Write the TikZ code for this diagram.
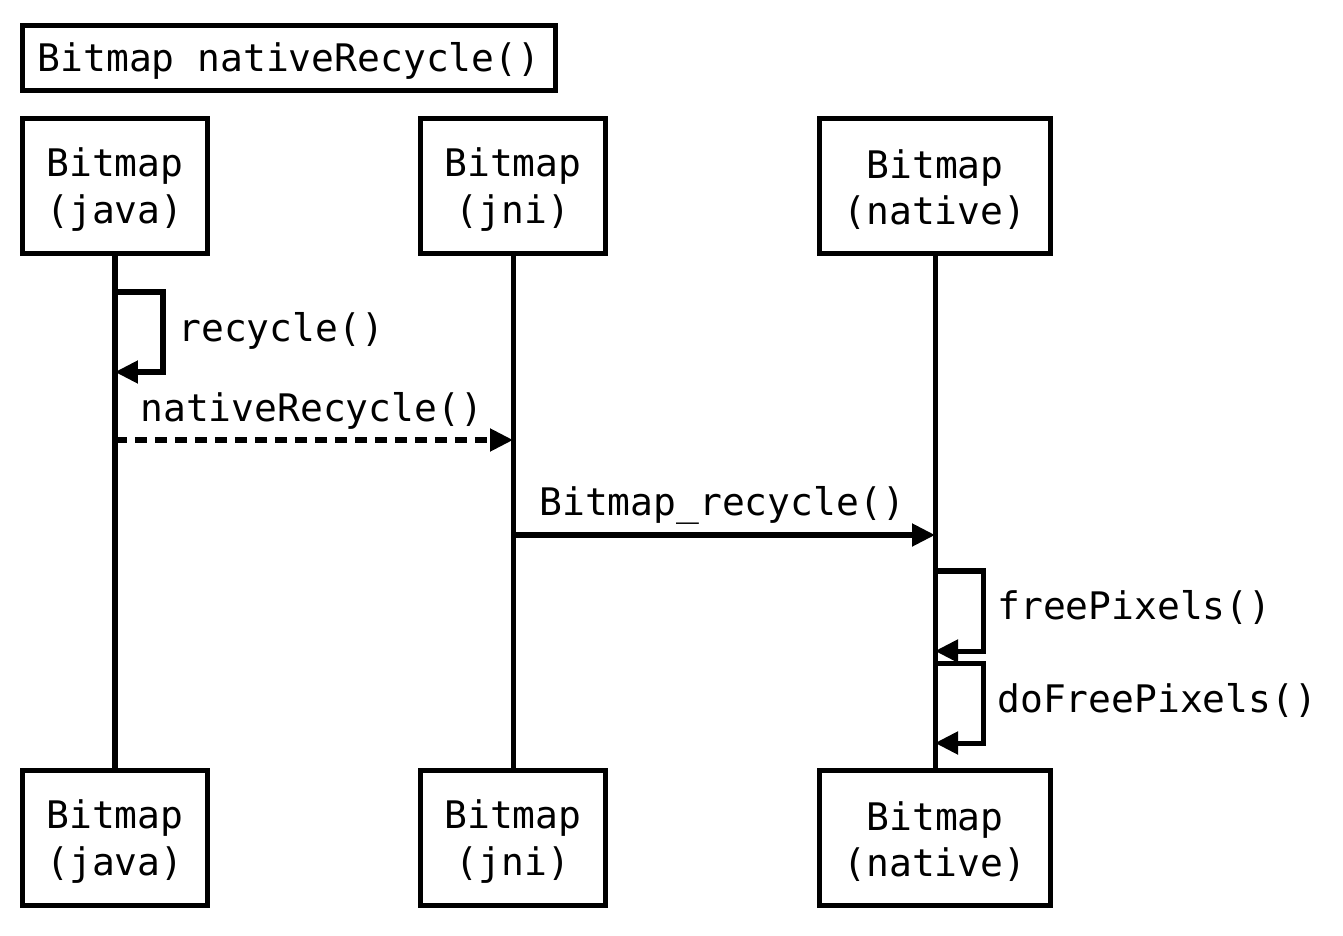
\documentclass[tikz,border=0pt]{standalone}
\usepackage{fontspec}
\setmainfont{DejaVu Sans Mono}
\usetikzlibrary{arrows.meta, positioning}

% participant text, pushed down a little inside its box
\newcommand{\bmp}[1]{\rule{0pt}{20.4pt}Bitmap\\(#1)}

\begin{document}
\begin{tikzpicture}[
    x=0.02cm, y=-0.02cm,
    every node/.style={font=\fontsize{21.6}{26.5}\selectfont},
    % Styles
    frame/.style={draw, line width=2.85pt, minimum width=10.66cm, minimum height=1.3cm,
      execute at begin node={\rule{0pt}{20.4pt}}},
    actor/.style={draw, line width=2.85pt, minimum width=#1, minimum height=2.72cm, align=center},
    lifeline/.style={line width=2.85pt},
    msg/.style={line width=2.85pt, -{Triangle[length=0.46cm, width=0.44cm]}},
    reply/.style={msg, dash pattern=on 0.24cm off 0.16cm},
    lbl/.style={anchor=base west, inner sep=0pt},
  ]
  \useasboundingbox (0,0) rectangle (1343,936);

  % 1) Title
  \node[frame] (title) at (289,58) {Bitmap nativeRecycle()};

  % 2) Participants, top and bottom
  \node[actor=3.7cm]  (java-top)   at (115,186) {\bmp{java}};
  \node[actor=3.7cm]  (jni-top)    at (513,186) {\bmp{jni}};
  \node[actor=4.62cm] (native-top) at (935,186) {\bmp{native}};

  \node[actor=3.7cm]  (java-bot)   at (115,838) {\bmp{java}};
  \node[actor=3.7cm]  (jni-bot)    at (513,838) {\bmp{jni}};
  \node[actor=4.62cm] (native-bot) at (935,838) {\bmp{native}};

  % 3) Lifelines
  \foreach \p in {java, jni, native}
    \draw[lifeline] (\p-top) -- (\p-bot);

  % 4) Messages
  \coordinate (rc1) at (115,292);
  \coordinate (rc2) at (115,372);
  \draw[msg] (rc1) -- ++(48,0) |- (rc2);
  \node[lbl] (rcLbl) at (178,341) {recycle()};

  \coordinate (nr1) at (115,440);
  \coordinate (nr2) at (513,440);
  \draw[reply] (nr1) -- (nr2);
  \node[lbl] (nrLbl) at (140,421) {nativeRecycle()};

  \coordinate (br1) at (513,535);
  \coordinate (br2) at (935,535);
  \draw[msg] (br1) -- (br2);
  \node[lbl] (brLbl) at (539,515) {Bitmap\_recycle()};

  \coordinate (fp1) at (935,571);
  \coordinate (fp2) at (935,651);
  \draw[msg] (fp1) -- ++(48,0) |- (fp2);
  \node[lbl] (fpLbl) at (997,619) {freePixels()};

  \coordinate (dp1) at (935,663);
  \coordinate (dp2) at (935,743);
  \draw[msg] (dp1) -- ++(48,0) |- (dp2);
  \node[lbl] (dpLbl) at (997,712) {doFreePixels()};
\end{tikzpicture}
\end{document}
